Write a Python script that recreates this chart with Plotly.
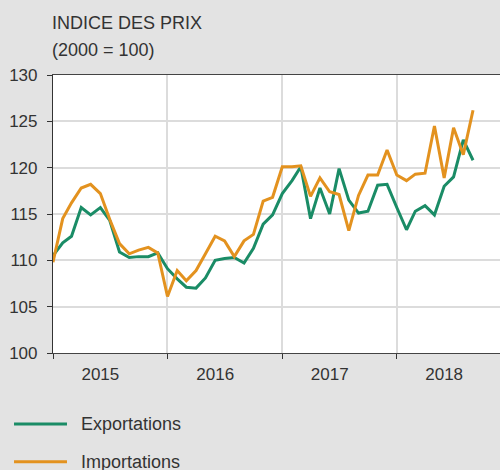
import pandas as pd
import plotly.graph_objects as go

months = pd.date_range("2015-01-01", periods=45, freq="MS")
series_names = ["Exportations", "Importations"]
exports = [110.5, 111.9, 112.6, 115.7, 114.9, 115.7, 114.3, 110.9, 110.3, 110.4, 110.4, 110.8,
           109.1, 108.0, 107.1, 107.0, 108.1, 110.0, 110.2, 110.3, 109.7, 111.3, 113.9, 114.9,
           117.2, 118.6, 120.1, 114.5, 117.8, 115.0, 119.9, 116.5, 115.1, 115.3, 118.1, 118.2,
           115.7, 113.3, 115.3, 115.9, 114.9, 118.0, 119.0, 123.0, 120.8]
imports = [109.8, 114.5, 116.2, 117.8, 118.2, 117.2, 114.4, 111.8, 110.7, 111.1, 111.4, 110.8,
           106.1, 108.9, 107.8, 108.9, 110.7, 112.6, 112.1, 110.4, 112.1, 112.8, 116.4, 116.8,
           120.1, 120.1, 120.2, 116.9, 118.9, 117.4, 117.1, 113.2, 117.0, 119.2, 119.2, 121.9,
           119.2, 118.6, 119.3, 119.4, 124.5, 118.9, 124.3, 121.4, 126.2]
year_labels = ["2015", "2016", "2017", "2018"]
y_ticks = [100, 105, 110, 115, 120, 125, 130]
title_lines = ["INDICE DES PRIX", "(2000 = 100)"]

colors = ["#1a8c66", "#e3921f"]
FONT = "Liberation Sans, Arial, sans-serif"
TXT = "#333333"

fig = go.Figure()
for name, vals, col in zip(series_names, [exports, imports], colors):
    fig.add_trace(go.Scatter(x=months, y=vals, mode="lines", name=name,
                             line=dict(color=col, width=3), showlegend=False))

year_starts = [f"{y}-01-01" for y in year_labels]
label_pos = [f"{y}-06-01" for y in year_labels]

fig.update_layout(
    width=500, height=470,
    margin=dict(l=53, r=0, t=75, b=117),
    paper_bgcolor="#e3e3e3", plot_bgcolor="#ffffff",
    font=dict(family=FONT, color=TXT, size=17),
    xaxis=dict(
        type="date", range=["2015-01-01", "2018-11-26"],
        tickmode="array", tickvals=label_pos, ticktext=year_labels,
        ticks="outside", ticklen=5, tickcolor="rgba(0,0,0,0)",
        showgrid=False, zeroline=False,
        showline=True, mirror=True, linecolor="#444444", linewidth=1.2,
        tickfont=dict(size=17, color=TXT),
        minor=dict(tickmode="array", tickvals=year_starts, ticks="outside", ticklen=5,
                   tickcolor="#333333", tickwidth=1, showgrid=True,
                   gridcolor="#dcdcdc", gridwidth=1.5),
    ),
    yaxis=dict(
        range=[100, 130], tickmode="array", tickvals=y_ticks,
        ticks="outside", ticklen=5, tickcolor="#333333",
        showline=True, linecolor="#333333", linewidth=1.2,
        showgrid=True, gridcolor="#dcdcdc", gridwidth=1.5, zeroline=False,
        tickfont=dict(size=17, color=TXT), ticklabelstandoff=6,
    ),
)

# title
fig.add_annotation(text=title_lines[0], xref="paper", yref="paper", x=0, y=1.187,
                   xanchor="left", yanchor="middle", showarrow=False,
                   font=dict(size=18, color=TXT), xshift=-3)
fig.add_annotation(text=title_lines[1], xref="paper", yref="paper", x=0, y=1.09,
                   xanchor="left", yanchor="middle", showarrow=False,
                   font=dict(size=18, color=TXT), xshift=-3)

# custom legend
leg_y = [-0.2554, -0.391]
for name, col, ly in zip(series_names, colors, leg_y):
    fig.add_shape(type="line", xref="paper", yref="paper", x0=-0.0872, x1=0.0313,
                  y0=ly, y1=ly, line=dict(color=col, width=3))
    fig.add_annotation(text=name, xref="paper", yref="paper", x=0.0582, y=ly,
                       xanchor="left", yanchor="middle", showarrow=False,
                       font=dict(size=18, color=TXT))

fig.write_html("out.html", config={"displayModeBar": False},
               post_script="document.body.style.margin='0';")
